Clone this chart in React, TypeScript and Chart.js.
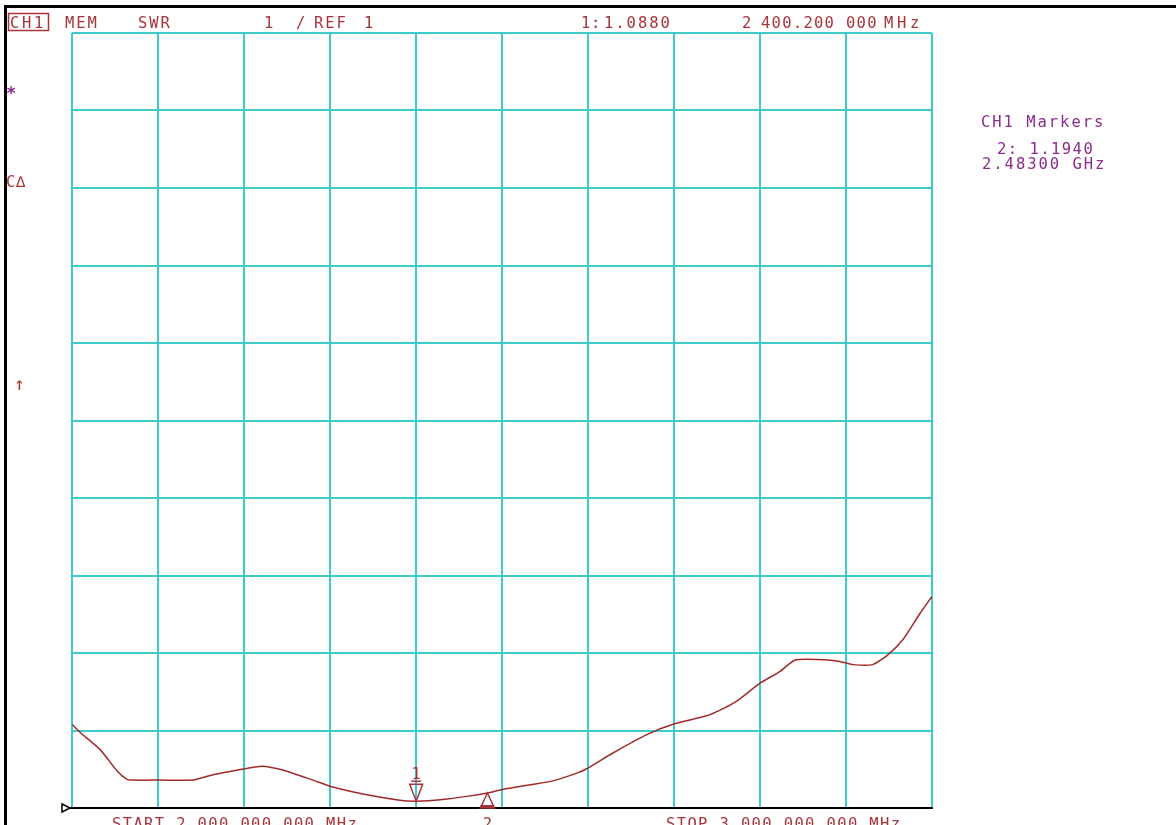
import React, { useEffect, useRef } from "react";
import { Chart, registerables } from "chart.js";

Chart.register(...registerables);

// Trace data (frequency in MHz, SWR)
const freqMHz = [2000, 2009, 2033, 2053, 2064, 2071, 2102, 2141, 2164, 2203, 2221, 2245, 2280, 2303, 2343, 2381, 2400, 2431, 2459, 2483, 2501, 2533, 2559, 2587, 2599, 2629, 2669, 2699, 2738, 2753, 2773, 2800, 2823, 2841, 2878, 2893, 2908, 2931, 2948, 2966, 2986, 3000];
const swr = [2.08, 1.98, 1.75, 1.47, 1.37, 1.36, 1.36, 1.36, 1.43, 1.51, 1.54, 1.49, 1.36, 1.27, 1.17, 1.1, 1.088, 1.11, 1.15, 1.194, 1.24, 1.3, 1.35, 1.45, 1.51, 1.71, 1.95, 2.08, 2.19, 2.26, 2.38, 2.61, 2.76, 2.91, 2.91, 2.89, 2.85, 2.85, 2.97, 3.17, 3.51, 3.73];

// Markers
const markerIds = ["1", "2"];
const markerFreq = [2400.2, 2483];
const markerSwr = [1.088, 1.194];

// Axis settings
const freqStart = 2000;
const freqStop = 3000;
const freqStep = 100;
const swrRef = 1;
const swrTop = 11;
const swrPerDiv = 1;

// Annotation texts
const headerTexts = ["MEM", "SWR", "1", "/", "REF", "1", "1:", "1.0880", "2", "400.200", "000", "MHz"];
const startLabel = "START 2 000.000 000 MHz";
const stopLabel = "STOP 3 000.000 000 MHz";
const markerPanel = ["CH1 Markers", "2: 1.1940", "2.48300 GHz"];

const RED = "#a8343a";
const PURPLE = "#8a2c8a";
const TRACE = "#a02a2a";
const GRID = "#3ccccc";
const FONT = "15.5px 'DejaVu Sans Mono', monospace";

function seg(ctx: CanvasRenderingContext2D, s: string, x: number, y: number, cell: number, color: string) {
  ctx.fillStyle = color;
  for (let i = 0; i < s.length; i++) {
    ctx.fillText(s[i], x + i * cell, y);
  }
}

const overlay = {
  id: "vnaOverlay",
  afterDraw(chart: any) {
    const ctx: CanvasRenderingContext2D = chart.ctx;
    const xs = chart.scales.x;
    const ys = chart.scales.y;
    const area = chart.chartArea;
    ctx.save();
    // frame
    ctx.fillStyle = "#000";
    ctx.fillRect(4, 5, 1172, 3);
    ctx.fillRect(4, 5, 3, 820);

    // reference baseline (black) and reference marker
    const yRef = ys.getPixelForValue(swrRef);
    ctx.strokeStyle = "#000";
    ctx.lineWidth = 2;
    ctx.beginPath();
    ctx.moveTo(area.left - 2, yRef);
    ctx.lineTo(area.right + 1, yRef);
    ctx.stroke();
    ctx.lineWidth = 1.5;
    ctx.beginPath();
    ctx.moveTo(62, yRef - 4);
    ctx.lineTo(70, yRef);
    ctx.lineTo(62, yRef + 4);
    ctx.closePath();
    ctx.stroke();

    ctx.font = FONT;
    ctx.textAlign = "left";
    ctx.textBaseline = "alphabetic";

    // header
    ctx.strokeStyle = RED;
    ctx.lineWidth = 1.5;
    ctx.strokeRect(8.5, 13.5, 40, 17);
    seg(ctx, "CH1", 10, 28, 12, RED);
    const hx = [65, 138, 264, 296, 314, 364, 581, 604, 742, 761, 846, 884];
    const hc = [11.3, 11.3, 11, 11, 11.3, 11, 10, 11.3, 11, 10.6, 10.6, 13];
    headerTexts.forEach((t, i) => seg(ctx, t, hx[i], 28, hc[i], RED));

    // left indicators
    ctx.font = "bold 17px 'DejaVu Sans Mono', monospace";
    seg(ctx, "*", 6, 99, 10, PURPLE);
    ctx.font = FONT;
    seg(ctx, "C∆", 6, 187, 10, RED);
    ctx.font = "18px 'DejaVu Sans Mono', monospace";
    seg(ctx, "↑", 14, 390, 10, RED);
    ctx.font = FONT;

    // right marker panel
    seg(ctx, markerPanel[0], 981, 127, 11.3, PURPLE);
    seg(ctx, markerPanel[1], 997, 154, 10.8, PURPLE);
    seg(ctx, markerPanel[2], 982, 169, 11.3, PURPLE);

    // bottom labels
    seg(ctx, startLabel, 112, 829, 10.7, RED);
    seg(ctx, stopLabel, 666, 829, 10.7, RED);

    // markers
    ctx.strokeStyle = RED;
    ctx.lineWidth = 1.5;
    markerIds.forEach((id, i) => {
      const px = xs.getPixelForValue(markerFreq[i]);
      const py = ys.getPixelForValue(markerSwr[i]);
      ctx.textAlign = "center";
      ctx.fillStyle = RED;
      if (i === 0) {
        ctx.beginPath();
        ctx.moveTo(px - 6.5, py - 17);
        ctx.lineTo(px + 6.5, py - 17);
        ctx.lineTo(px, py);
        ctx.closePath();
        ctx.stroke();
        ctx.beginPath();
        ctx.moveTo(px - 5, py - 20);
        ctx.lineTo(px + 5, py - 20);
        ctx.stroke();
        ctx.fillText(id, px, py - 22);
      } else {
        ctx.beginPath();
        ctx.moveTo(px - 7, yRef);
        ctx.lineTo(px, py);
        ctx.lineTo(px + 7, yRef);
        ctx.closePath();
        ctx.stroke();
        ctx.fillRect(px - 7, yRef - 3, 14, 3);
        ctx.fillText(id, px, 829);
      }
    });
    ctx.restore();
  },
};

export default function App() {
  const ref = useRef<HTMLCanvasElement>(null);
  useEffect(() => {
    document.body.style.margin = "0";
    const canvas = ref.current!;
    const chart = new Chart(canvas, {
      type: "line",
      data: {
        datasets: [
          {
            data: freqMHz.map((f, i) => ({ x: f, y: swr[i] })),
            borderColor: TRACE,
            borderWidth: 1.5,
            pointRadius: 0,
            tension: 0.2,
            fill: false,
          },
        ],
      },
      options: {
        responsive: false,
        animation: false,
        devicePixelRatio: 1,
        layout: { padding: { left: 72, right: 244, top: 33, bottom: 17 } },
        plugins: { legend: { display: false }, tooltip: { enabled: false } },
        scales: {
          x: {
            type: "linear",
            min: freqStart,
            max: freqStop,
            ticks: { display: false, stepSize: freqStep },
            grid: { color: GRID, lineWidth: 2, drawTicks: false },
            border: { display: false },
            afterFit: (s: any) => {
              s.height = 0;
            },
          },
          y: {
            type: "linear",
            min: swrRef,
            max: swrTop,
            ticks: { display: false, stepSize: swrPerDiv },
            grid: { color: GRID, lineWidth: 2, drawTicks: false },
            border: { display: false },
            afterFit: (s: any) => {
              s.width = 0;
            },
          },
        },
      },
      plugins: [overlay],
    });
    return () => chart.destroy();
  }, []);
  return (
    <div style={{ width: 1176, height: 825, background: "#fff", overflow: "hidden" }}>
      <canvas ref={ref} width={1176} height={825} style={{ display: "block" }} />
    </div>
  );
}
